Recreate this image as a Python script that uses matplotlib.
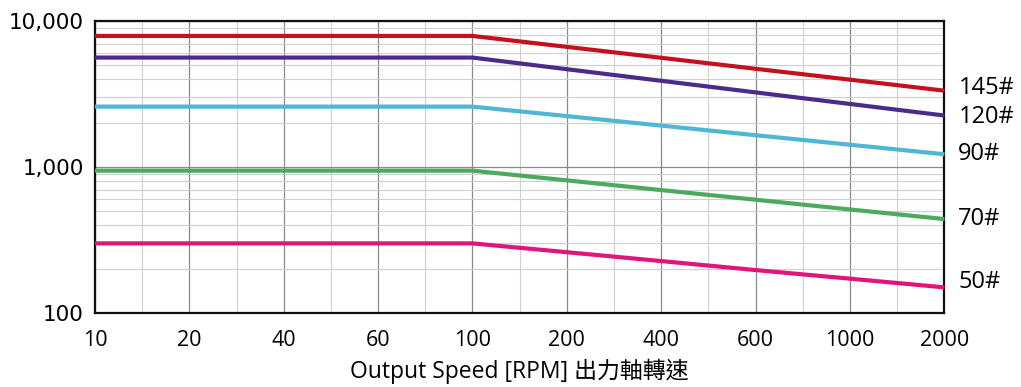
import numpy as np
import matplotlib.pyplot as plt
from matplotlib.ticker import FixedLocator, NullFormatter

# output speed categories (evenly spaced on the chart)
speeds = ['10', '20', '40', '60', '100', '200', '400', '600', '1000', '2000']

# torque curves
t145 = [7890, 7890, 7890, 7890, 7890, 6640, 5590, 4700, 3960, 3330]
t120 = [5610, 5610, 5610, 5610, 5610, 4670, 3890, 3240, 2700, 2250]
t90 = [2590, 2590, 2590, 2590, 2590, 2230, 1920, 1650, 1420, 1222]
t70 = [944, 944, 944, 944, 944, 810, 695, 597, 512, 440]
t50 = [300, 300, 300, 300, 300, 261, 227, 197, 172, 150]

series = [t145, t120, t90, t70, t50]
names = ['145#', '120#', '90#', '70#', '50#']
colors = ['#c3121e', '#4b2a8a', '#4cb8d4', '#4caa5c', '#e0147c']
label_dy = [2, -1, 0, 0, 4]

yticks = [100, 1000, 10000]
ylabels = ['100', '1,000', '10,000']

plt.rcParams['font.family'] = ['Open Sans', 'Noto Sans CJK TC', 'DejaVu Sans']

fig = plt.figure(figsize=(10.21, 3.87), dpi=100)
ax = fig.add_axes([0.093, 0.191, 0.832, 0.755])

x = np.arange(len(speeds))
for vals, name, c, dy in zip(series, names, colors, label_dy):
    ax.plot(x, vals, color=c, lw=3, solid_capstyle='butt', zorder=3, clip_on=False)
    ax.annotate(name, (x[-1], vals[-1]), xytext=(10, dy), textcoords='offset points',
                ha='left', va='center', fontsize=17, annotation_clip=False)

ax.set_yscale('log')
ax.set_ylim(100, 10000)
ax.set_xlim(0, len(speeds) - 1)

ax.set_xticks(x)
ax.set_xticklabels(speeds, fontsize=15.5)
ax.set_xticks(x[:-1] + 0.5, minor=True)
ax.set_yticks(yticks)
ax.set_yticklabels(ylabels, fontsize=15.5, family=['DejaVu Sans'])
ax.yaxis.set_minor_locator(FixedLocator([m * d for d in (100, 1000) for m in range(2, 10)]))
ax.yaxis.set_minor_formatter(NullFormatter())

ax.tick_params(which='both', length=0)
ax.tick_params(axis='x', pad=12)
ax.tick_params(axis='y', pad=8)

ax.grid(which='major', color='#8a8a8a', lw=0.9)
ax.grid(which='minor', color='#cfcfcf', lw=0.8)
ax.set_axisbelow(True)

for s in ax.spines.values():
    s.set_linewidth(1.6)
    s.set_color('#111111')

ax.set_xlabel('Output Speed [RPM] 出力軸轉速', fontsize=16.5, labelpad=6)

plt.savefig('out.png', dpi=100)
